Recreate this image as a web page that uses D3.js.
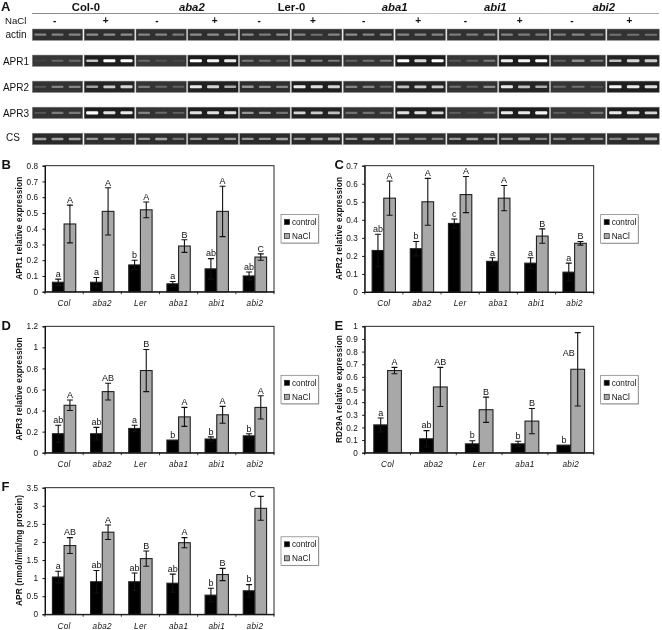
<!DOCTYPE html>
<html><head><meta charset="utf-8">
<script src="https://cdn.jsdelivr.net/npm/d3@7"></script>
<style>html,body{margin:0;padding:0;background:#fff}svg{display:block;filter:blur(.3px)}text{font-family:"Liberation Sans",Arial,sans-serif;fill:#111}</style>
</head><body><svg id="c" width="662" height="630"></svg>
<script>
// ---------- data ----------
const genotypes = ["Col-0","aba2","Ler-0","aba1","abi1","abi2"];
const categories = ["Col","aba2","Ler","aba1","abi1","abi2"];
const categoriesE = ["Col","aba2","Ler","aba1","abi2"];
const treatments = ["-","+"];
const seriesNames = ["control","NaCl"];

const gelActin = [[.4,.4,.4],[.45,.45,.45],[.4,.4,.35],[.45,.45,.45],[.45,.35,.45],[.4,.3,.4],[.45,.4,.45],[.4,.4,.4],[.35,.35,.4],[.4,.35,.35],[.35,.4,.35],[.3,.3,.3]];
const gelAPR1 = [[.05,.25,.25],[.7,1,1],[.25,.12,.08],[1,.95,.9],[.35,.3,.2],[.5,.4,.35],[.2,.3,.35],[1,.8,1],[.15,.2,.35],[.9,.95,1],[.2,.45,.35],[.7,.8,.75]];
const gelAPR2 = [[.15,.4,.4],[.55,.75,.8],[.35,.25,.2],[.9,.8,.6],[.5,.45,.4],[.9,.85,.8],[.4,.4,.25],[.7,.75,.75],[.3,.2,.45],[.9,.7,.6],[.25,.3,.12],[.95,.9,.85]];
const gelAPR3 = [[.15,.35,.35],[1,.85,.9],[.4,.25,.2],[.85,.85,.85],[.5,.5,.3],[.8,.75,.7],[.3,.3,.3],[.85,.85,.8],[.2,.08,.25],[.9,.9,.95],[.2,.1,.3],[.9,.85,.8]];
const gelCS = [[.55,.55,.55],[.5,.5,.25],[.5,.55,.3],[.5,.5,.5],[.5,.5,.55],[.5,.55,.6],[.5,.55,.45],[.45,.4,.4],[.5,.55,.5],[.5,.6,.4],[.4,.4,.45],[.4,.45,.6]];
const gelRowNames = ["actin","APR1","APR2","APR3","CS"];

const bControl=[.06,.06,.17,.05,.145,.10], bControlErr=[.02,.03,.03,.015,.065,.025], bNaCl=[.43,.51,.52,.29,.51,.22], bNaClErr=[.12,.15,.05,.04,.16,.02];
const bLetters=["a","a","b","a","ab","ab"], bLettersN=["A","A","A","B","A","C"];
const cControl=[.23,.24,.38,.17,.16,.11], cControlErr=[.09,.04,.025,.02,.03,.05], cNaCl=[.52,.50,.54,.52,.31,.27], cNaClErr=[.095,.13,.10,.07,.04,.01];
const cLetters=["ab","b","c","a","a","a"], cLettersN=["A","A","A","A","B","B"];
const dControl=[.18,.18,.23,.12,.13,.16], dControlErr=[.08,.06,.03,0,.02,.02], dNaCl=[.45,.58,.78,.34,.36,.43], dNaClErr=[.05,.08,.20,.09,.08,.11];
const dLetters=["ab","ab","a","b","b","b"], dLettersN=["A","AB","B","A","A","A"];
const eControl=[.22,.11,.07,.07,.06], eControlErr=[.055,.065,.025,.02,0], eNaCl=[.65,.52,.34,.25,.66], eNaClErr=[.025,.155,.10,.10,.29];
const eLetters=["a","ab","b","b","b"], eLettersN=["A","AB","B","B","AB"];
const fControl=[1.03,.9,.9,.86,.53,.65], fControlErr=[.16,.31,.24,.25,.19,.17], fNaCl=[1.9,2.27,1.54,1.98,1.1,2.93], fNaClErr=[.22,.2,.21,.14,.17,.33];
const fLetters=["a","ab","ab","ab","b","b"], fLettersN=["AB","A","B","A","B","C"];
const bTicks=[0,.1,.2,.3,.4,.5,.6,.7,.8], cTicks=[0,.1,.2,.3,.4,.5,.6,.7], dTicks=[0,.2,.4,.6,.8,1,1.2], eTicks=[0,.1,.2,.3,.4,.5,.6,.7,.8,.9,1], fTicks=[0,.5,1,1.5,2,2.5,3,3.5];

// ---------- gel panel ----------
const svg=d3.select("#c");
const defs=svg.append("defs");
defs.append("filter").attr("id","soft").attr("x","-20%").attr("y","-100%").attr("width","140%").attr("height","300%")
  .append("feGaussianBlur").attr("stdDeviation","0.6 0.45");
const grad=defs.append("linearGradient").attr("id","rule");
grad.append("stop").attr("offset","0").attr("stop-color","#8a8a8a");
grad.append("stop").attr("offset","0.55").attr("stop-color","#9a9a9a");
grad.append("stop").attr("offset","0.6").attr("stop-color","#c4c4c4");
grad.append("stop").attr("offset","1").attr("stop-color","#a8a8a8");

const panelX=d3.scaleLinear().domain([0,10,11,12]).range([32.3,550.7,607,660.7]);
const rowY=d3.scaleLinear().domain([0,4]).range([29,133.2]);
const rowH=11.4;
const gelRows=[gelActin,gelAPR1,gelAPR2,gelAPR3,gelCS];
const bandColor=d3.scaleLinear().domain([0,.5,1]).range(["#3c3c3c","#969696","#ffffff"]);
const bgColor=d3.scaleLinear().domain([0,1]).range(["#3e3e3e","#1a1a1a"]);
const gel=svg.append("g");
gelRows.forEach((row,r)=>{
  const g=gel.append("g").attr("transform",`translate(0,${rowY(r)})`);
  row.forEach((lanes,p)=>{
    const x0=panelX(p),x1=panelX(p+1)-1.4;
    const mean=d3.mean(lanes);
    g.append("rect").attr("x",x0).attr("y",0).attr("width",x1-x0).attr("height",rowH)
      .attr("fill",bgColor(mean)).attr("stroke","#8c8c8c").attr("stroke-width",.5);
    const lane=d3.scaleBand().domain(d3.range(3)).range([x0,x1]).paddingInner(.3).paddingOuter(.12);
    g.selectAll(null).data(lanes).join("rect")
      .attr("x",(d,i)=>lane(i)).attr("width",lane.bandwidth())
      .attr("y",d=>rowH/2-(.8+d*.8)).attr("height",d=>1.6+d*1.6).attr("rx",1)
      .attr("fill",d=>bandColor(d)).attr("filter","url(#soft)");
  });
});
svg.append("rect").attr("x",32).attr("y",13).attr("width",627).attr("height",1).attr("fill","url(#rule)");
const italicG=new Set(["aba2","aba1","abi1","abi2"]);
// the hand-set labels over the gels do not sit exactly on the panel centres
const headerNudge=[2.3,4.5,0.5,0,-3,-1.5];
const signNudge=[-1.5,-2.5,-3,3,-4.5,-2.5,-3.5,-1,-5.5,-3,-5,-2.5];
genotypes.forEach((g,i)=>{
  svg.append("text").attr("x",(panelX(i*2)+panelX(i*2+2))/2-.5+headerNudge[i]).attr("y",11).attr("text-anchor","middle")
    .attr("font-size",11.3).attr("font-weight","bold").attr("font-style",italicG.has(g)?"italic":"normal").text(g);
});
d3.range(12).forEach(i=>{
  svg.append("text").attr("x",(panelX(i)+panelX(i+1))/2-2+signNudge[i]).attr("y",24).attr("text-anchor","middle")
    .attr("font-size",10).attr("font-weight","bold").text(treatments[i%2]);
});
svg.append("text").attr("x",5).attr("y",24).attr("font-size",9.6).text("NaCl");
gelRowNames.forEach((n,i)=>{
  svg.append("text").attr("x",n==="CS"?13:16).attr("y",rowY(i)+(i==0?9:i==4?8:10)).attr("text-anchor","middle").attr("font-size",10).text(n);
});
svg.append("text").attr("x",1).attr("y",11).attr("font-size",13).attr("font-weight","bold").text("A");

// ---------- bar charts ----------
function chart(o){
  const g=svg.append("g");
  const x=d3.scaleBand().domain(o.cats).range([o.left,o.left+229]);
  const inner=d3.scaleBand().domain(seriesNames).range([0,x.bandwidth()]).paddingOuter(o.cats.length==5?.66:.634);
  const y=d3.scaleLinear().domain([0,o.max]).range([o.bottom,o.top]);
  g.append("rect").attr("x",o.left).attr("y",o.top).attr("width",229).attr("height",o.bottom-o.top)
    .attr("fill","#fff").attr("stroke","#111").attr("stroke-width",.9);
  const series=[{n:"control",v:o.control,e:o.controlErr,l:o.letters},{n:"NaCl",v:o.nacl,e:o.naclErr,l:o.lettersN}];
  series.forEach(s=>{
    const xb=i=>x(o.cats[i])+inner(s.n), w=inner.bandwidth();
    g.selectAll(null).data(s.v).join("rect")
      .attr("x",(d,i)=>xb(i)).attr("y",d=>y(d)).attr("width",w).attr("height",d=>o.bottom-y(d))
      .attr("fill",s.n==="control"?"#000":"#a8a8a8").attr("stroke","#222").attr("stroke-width",1.1);
    s.v.forEach((d,i)=>{
      const cx=xb(i)+w/2, e=s.e[i];
      if(e>0){
        g.append("path").attr("fill","none").attr("stroke","#111").attr("stroke-width",1.1)
          .attr("d",`M${cx-3},${y(d+e)}H${cx+3}M${cx},${y(d+e)}V${y(d-e)}M${cx-3},${y(d-e)}H${cx+3}`);
      }
      const sh=(o.shift&&o.shift[s.n+i])||[0,0];
      g.append("text").attr("x",cx+sh[0]).attr("y",y(d+e)-2.2+sh[1]).attr("text-anchor","middle").attr("font-size",9).text(s.l[i]);
    });
  });
  // axes
  const ax=g.append("g").attr("transform",`translate(0,${o.bottom})`)
    .call(d3.axisBottom(x).tickSize(0).tickPadding(8.5));
  ax.select(".domain").attr("stroke","#111");
  ax.selectAll("text").attr("font-size",8.2).attr("font-style","italic").attr("letter-spacing",.3);
  const bounds=o.cats.map(c=>x(c)).concat([o.left+229]);
  g.selectAll(null).data(bounds).join("line").attr("x1",d=>d).attr("x2",d=>d).attr("y1",o.bottom).attr("y2",o.bottom+2.5).attr("stroke","#111").attr("stroke-width",.8);
  const ay=g.append("g").attr("transform",`translate(${o.left},0)`)
    .call(d3.axisLeft(y).tickValues(o.ticks).tickSize(2.5).tickPadding(4.5).tickFormat(d=>String(+d.toFixed(1))));
  ay.select(".domain").attr("stroke","#111");
  ay.selectAll("line").attr("stroke","#111");
  ay.selectAll("text").attr("font-size",8.2);
  g.append("text").attr("transform",`translate(${o.left-23},${(o.top+o.bottom)/2-0.5}) rotate(-90)`)
    .attr("text-anchor","middle").attr("font-size",8.3).attr("font-weight","bold").attr("letter-spacing",.15).text(o.title);
  // letter
  svg.append("text").attr("x",o.letterX).attr("y",o.top+3.5).attr("font-size",13).attr("font-weight","bold").text(o.panel);
  // legend
  const lx=o.left+236, ly=(o.top+o.bottom)/2-14.2;
  g.append("rect").attr("x",lx+.8).attr("y",ly+.8).attr("width",37.5).attr("height",28.5).attr("fill","#bbb");
  g.append("rect").attr("x",lx).attr("y",ly).attr("width",37.5).attr("height",28.5).attr("fill","#fff").attr("stroke","#777").attr("stroke-width",.7);
  seriesNames.forEach((n,i)=>{
    const yy=ly+7.5+i*14;
    g.append("rect").attr("x",lx+3.5).attr("y",yy-2.5).attr("width",5).attr("height",5).attr("fill",i?"#a8a8a8":"#000").attr("stroke","#222").attr("stroke-width",.7);
    g.append("text").attr("x",lx+11).attr("y",yy+2.8).attr("font-size",8.2).text(n);
  });
}
const BL=45,CL=364.7;
chart({panel:"B",letterX:1.5,left:BL,top:165.7,bottom:291.7,max:.8,ticks:bTicks,cats:categories,control:bControl,controlErr:bControlErr,nacl:bNaCl,naclErr:bNaClErr,letters:bLetters,lettersN:bLettersN,title:"APR1 relative expression"});
chart({panel:"C",letterX:334.5,left:CL,top:165.7,bottom:292,max:.7,ticks:cTicks,cats:categories,control:cControl,controlErr:cControlErr,nacl:cNaCl,naclErr:cNaClErr,letters:cLetters,lettersN:cLettersN,title:"APR2 relative expression"});
chart({panel:"D",letterX:1.5,left:BL,top:326.3,bottom:452.7,max:1.2,ticks:dTicks,cats:categories,control:dControl,controlErr:dControlErr,nacl:dNaCl,naclErr:dNaClErr,letters:dLetters,lettersN:dLettersN,title:"APR3 relative expression"});
chart({panel:"E",letterX:334.5,left:CL,top:326.3,bottom:452.7,max:1,ticks:eTicks,cats:categoriesE,control:eControl,controlErr:eControlErr,nacl:eNaCl,naclErr:eNaClErr,letters:eLetters,lettersN:eLettersN,title:"RD29A relative expression",shift:{NaCl4:[-9,26]}});
chart({panel:"F",letterX:1.5,left:BL,top:487.7,bottom:614.3,max:3.5,ticks:fTicks,cats:categories,control:fControl,controlErr:fControlErr,nacl:fNaCl,naclErr:fNaClErr,letters:fLetters,lettersN:fLettersN,title:"APR (nmol/min/mg protein)",shift:{NaCl5:[-8,3]}});
</script></body></html>
